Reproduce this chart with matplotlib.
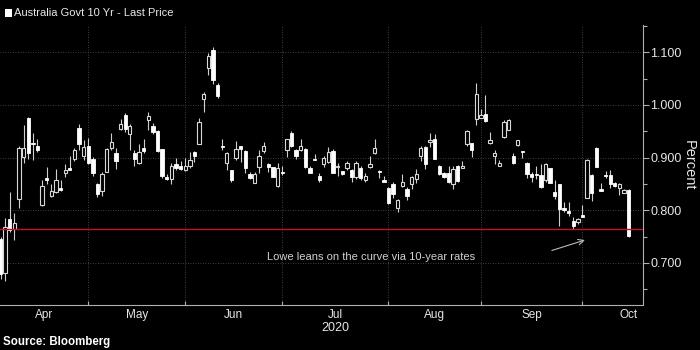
import numpy as np
import matplotlib.pyplot as plt
from matplotlib.patches import Rectangle
from matplotlib.ticker import FixedLocator, MultipleLocator, FixedFormatter

plt.rcParams['font.family'] = ['Liberation Sans', 'DejaVu Sans']

# daily candles (trading-day index), values in percent
opens = [0.745, 0.680, 0.784, 0.764, 0.822, 0.901, 0.976, 0.928, 0.922, 0.810,
         0.861, 0.828, 0.835, 0.842, 0.871, 0.880, 0.897, 0.957, 0.903, 0.923,
         0.897, 0.849, 0.837, 0.873, 0.918, 0.909, 0.954, 0.981, 0.944, 0.909,
         0.890, 0.918, 0.971, 0.961, 0.951, 0.916, 0.864, 0.860, 0.887, 0.885,
         0.877, 0.885, 0.911, 0.926, 1.012, 1.071, 1.104, 1.038, 0.923, 0.889,
         0.876, 0.900, 0.922, 0.913, 0.868, 0.852, 0.882, 0.912, 0.888, 0.882,
         0.846, 0.872, 0.915, 0.946, 0.915, 0.915, 0.917, 0.881, 0.898, 0.866,
         0.887, 0.891, 0.912, 0.883, 0.874, 0.881, 0.877, 0.863, 0.880, 0.857,
         0.882, 0.908, 0.875, 0.857, 0.842, 0.849, 0.804, 0.846, 0.840, 0.849,
         0.859, 0.903, 0.920, 0.929, 0.936, 0.885, 0.871, 0.871, 0.850, 0.885,
         0.881, 0.925, 0.927, 0.973, 0.976, 0.983, 0.927, 0.904, 0.885, 0.939,
         0.953, 0.903, 0.924, 0.912, 0.890, 0.869, 0.869, 0.867, 0.857, 0.880,
         0.835, 0.849, 0.805, 0.798, 0.779, 0.777, 0.791, 0.824, 0.867, 0.919,
         0.840, 0.867, 0.867, 0.852, 0.842, 0.833, 0.839]
highs = [0.750, 0.785, 0.835, 0.795, 0.922, 0.962, 0.978, 0.946, 0.935, 0.857,
         0.883, 0.849, 0.879, 0.858, 0.887, 0.903, 0.919, 0.963, 0.933, 0.938,
         0.901, 0.852, 0.873, 0.919, 0.946, 0.919, 0.974, 0.985, 0.964, 0.914,
         0.925, 0.935, 0.986, 0.966, 0.952, 0.917, 0.869, 0.890, 0.900, 0.894,
         0.900, 0.911, 0.912, 0.976, 1.025, 1.098, 1.111, 1.042, 0.936, 0.911,
         0.877, 0.932, 0.923, 0.914, 0.873, 0.872, 0.914, 0.929, 0.889, 0.883,
         0.889, 0.885, 0.935, 0.951, 0.916, 0.935, 0.918, 0.884, 0.906, 0.871,
         0.904, 0.920, 0.917, 0.889, 0.875, 0.893, 0.878, 0.894, 0.884, 0.870,
         0.903, 0.935, 0.876, 0.866, 0.844, 0.854, 0.822, 0.868, 0.844, 0.866,
         0.879, 0.922, 0.923, 0.947, 0.944, 0.886, 0.872, 0.885, 0.885, 0.886,
         0.894, 0.952, 0.928, 1.041, 0.993, 1.019, 0.949, 0.914, 0.895, 0.971,
         0.974, 0.908, 0.934, 0.913, 0.891, 0.873, 0.885, 0.888, 0.890, 0.881,
         0.858, 0.850, 0.816, 0.816, 0.788, 0.786, 0.810, 0.898, 0.868, 0.920,
         0.852, 0.875, 0.877, 0.853, 0.851, 0.840, 0.840]
lows = [0.670, 0.665, 0.758, 0.743, 0.804, 0.889, 0.898, 0.895, 0.911, 0.808,
        0.850, 0.825, 0.833, 0.837, 0.863, 0.876, 0.894, 0.914, 0.895, 0.887,
        0.866, 0.826, 0.828, 0.872, 0.914, 0.879, 0.952, 0.949, 0.915, 0.885,
        0.887, 0.908, 0.952, 0.945, 0.911, 0.862, 0.857, 0.849, 0.877, 0.876,
        0.875, 0.881, 0.892, 0.925, 0.987, 1.057, 1.039, 1.014, 0.915, 0.876,
        0.853, 0.895, 0.891, 0.870, 0.860, 0.851, 0.871, 0.909, 0.873, 0.863,
        0.845, 0.867, 0.901, 0.920, 0.897, 0.913, 0.881, 0.870, 0.895, 0.854,
        0.883, 0.889, 0.870, 0.866, 0.867, 0.876, 0.853, 0.860, 0.857, 0.854,
        0.881, 0.906, 0.862, 0.853, 0.812, 0.823, 0.796, 0.844, 0.820, 0.840,
        0.851, 0.894, 0.879, 0.920, 0.897, 0.867, 0.862, 0.852, 0.841, 0.854,
        0.880, 0.922, 0.901, 0.962, 0.975, 0.967, 0.925, 0.887, 0.884, 0.938,
        0.952, 0.888, 0.923, 0.899, 0.862, 0.853, 0.859, 0.843, 0.854, 0.851,
        0.822, 0.771, 0.797, 0.790, 0.765, 0.774, 0.787, 0.823, 0.817, 0.882,
        0.836, 0.862, 0.842, 0.845, 0.829, 0.832, 0.749]
closes = [0.678, 0.768, 0.763, 0.776, 0.919, 0.919, 0.908, 0.925, 0.914, 0.847,
          0.857, 0.836, 0.858, 0.838, 0.877, 0.877, 0.914, 0.926, 0.920, 0.890,
          0.871, 0.830, 0.868, 0.917, 0.929, 0.894, 0.963, 0.955, 0.960, 0.897,
          0.910, 0.912, 0.980, 0.948, 0.913, 0.866, 0.859, 0.884, 0.880, 0.878,
          0.884, 0.895, 0.904, 0.967, 1.021, 1.093, 1.047, 1.017, 0.920, 0.908,
          0.858, 0.916, 0.916, 0.881, 0.862, 0.868, 0.903, 0.923, 0.882, 0.864,
          0.881, 0.870, 0.935, 0.923, 0.903, 0.923, 0.882, 0.871, 0.896, 0.857,
          0.900, 0.910, 0.871, 0.885, 0.868, 0.889, 0.863, 0.890, 0.861, 0.866,
          0.887, 0.919, 0.873, 0.854, 0.814, 0.830, 0.820, 0.854, 0.827, 0.863,
          0.868, 0.919, 0.887, 0.933, 0.898, 0.868, 0.863, 0.854, 0.879, 0.855,
          0.885, 0.951, 0.914, 1.021, 0.981, 0.969, 0.934, 0.909, 0.889, 0.968,
          0.972, 0.890, 0.933, 0.910, 0.869, 0.864, 0.867, 0.844, 0.887, 0.852,
          0.828, 0.803, 0.801, 0.795, 0.771, 0.783, 0.787, 0.896, 0.832, 0.883,
          0.837, 0.865, 0.849, 0.846, 0.849, 0.838, 0.752]

# first trading day of each month (index), last entry = end of Oct span
month_starts = [0, 19, 40, 61, 84, 104, 126, 146]
month_names = ['Apr', 'May', 'Jun', 'Jul', 'Aug', 'Sep', 'Oct']
ref_level = 0.765

o = np.array(opens)
h = np.array(highs)
l = np.array(lows)
c = np.array(closes)
x = np.arange(len(o))
up = c >= o
body_lo = np.minimum(o, c)
body_h = np.maximum(np.abs(c - o), 0.002)

fig = plt.figure(figsize=(7, 3.5), dpi=100, facecolor='black')
ax = fig.add_axes([0, 45 / 350, 642.5 / 700, 280 / 350], facecolor='black')

ax.vlines(x, l, h, color='#cfcfcf', lw=0.8, zorder=2)
ax.bar(x[up], body_h[up], bottom=body_lo[up], width=0.72,
       facecolor='black', edgecolor='#d8d8d8', lw=0.8, zorder=3)
ax.bar(x[~up], body_h[~up], bottom=body_lo[~up], width=0.72,
       facecolor='white', edgecolor='white', lw=0.6, zorder=3)

ax.axhline(ref_level, color='#c8102e', lw=1.0, zorder=4)

ax.set_xlim(-0.11, 139.0)
ax.set_ylim(0.620, 1.152)

# grid
for m in month_starts[1:-1]:
    ax.axvline(m, color='#555555', lw=0.6, ls=(0, (1, 2)), zorder=1)
for v in [0.7, 0.8, 0.9, 1.0, 1.1]:
    ax.axhline(v, color='#555555', lw=0.6, ls=(0, (1, 2)), zorder=1)

# spines
for s in ['left', 'top']:
    ax.spines[s].set_visible(False)
for s in ['right', 'bottom']:
    ax.spines[s].set_color('#b0b0b0')
    ax.spines[s].set_linewidth(0.8)

# y axis on the right
ax.yaxis.tick_right()
ax.yaxis.set_major_locator(MultipleLocator(0.1))
ax.yaxis.set_minor_locator(MultipleLocator(0.05))
ax.yaxis.set_major_formatter(lambda v, p: f'{v:.3f}')
ax.tick_params(axis='y', which='major', length=4, width=0.8, color='#b0b0b0',
               labelcolor='#e6e6e6', labelsize=9, pad=1.5)
ax.tick_params(axis='y', which='minor', length=3, width=0.8, color='#b0b0b0')

# x axis: month boundaries as ticks, names centered in each month
mids = [(a + b) / 2 for a, b in zip(month_starts[:-1], month_starts[1:])]
ax.xaxis.set_major_locator(FixedLocator(month_starts[1:-1]))
ax.xaxis.set_major_formatter(FixedFormatter([''] * (len(month_starts) - 2)))
ax.xaxis.set_minor_locator(FixedLocator(mids))
ax.xaxis.set_minor_formatter(FixedFormatter(month_names))
ax.tick_params(axis='x', which='major', length=3, width=0.8, direction='in',
               color='#b0b0b0')
ax.tick_params(axis='x', which='minor', length=0, labelcolor='#e6e6e6',
               labelsize=8.5, pad=3)

# annotation
ax.text(57.8, 0.711, 'Lowe leans on the curve via 10-year rates',
        color='#d0d0d0', fontsize=8, ha='left', va='center')
ax.annotate('', xy=(127.1, 0.745), xytext=(118.8, 0.722),
            arrowprops=dict(arrowstyle='->', color='#bbbbbb', lw=0.8))

# title with legend square
fig.patches.append(Rectangle((5 / 700, 1 - 17 / 350), 7 / 700, 8 / 350,
                             transform=fig.transFigure, facecolor='white',
                             edgecolor='none'))
fig.text(14 / 700, 1 - 13 / 350, 'Australia Govt 10 Yr - Last Price',
         color='#e8e8e8', fontsize=8, ha='left', va='center')

fig.text(689 / 700, 1 - 165 / 350, 'Percent', rotation=270, color='#e6e6e6',
         fontsize=10.5, ha='center', va='center')
fig.text(mids[3] / 139.11 * (642.5 / 700), 1 - 328 / 350, '2020',
         color='#e6e6e6', fontsize=9, ha='center', va='center')
fig.text(3 / 700, 1 - 342 / 350, 'Source: Bloomberg', color='white',
         fontsize=8.3, fontweight='bold', ha='left', va='center')

plt.savefig('out.png', dpi=100, facecolor='black')
